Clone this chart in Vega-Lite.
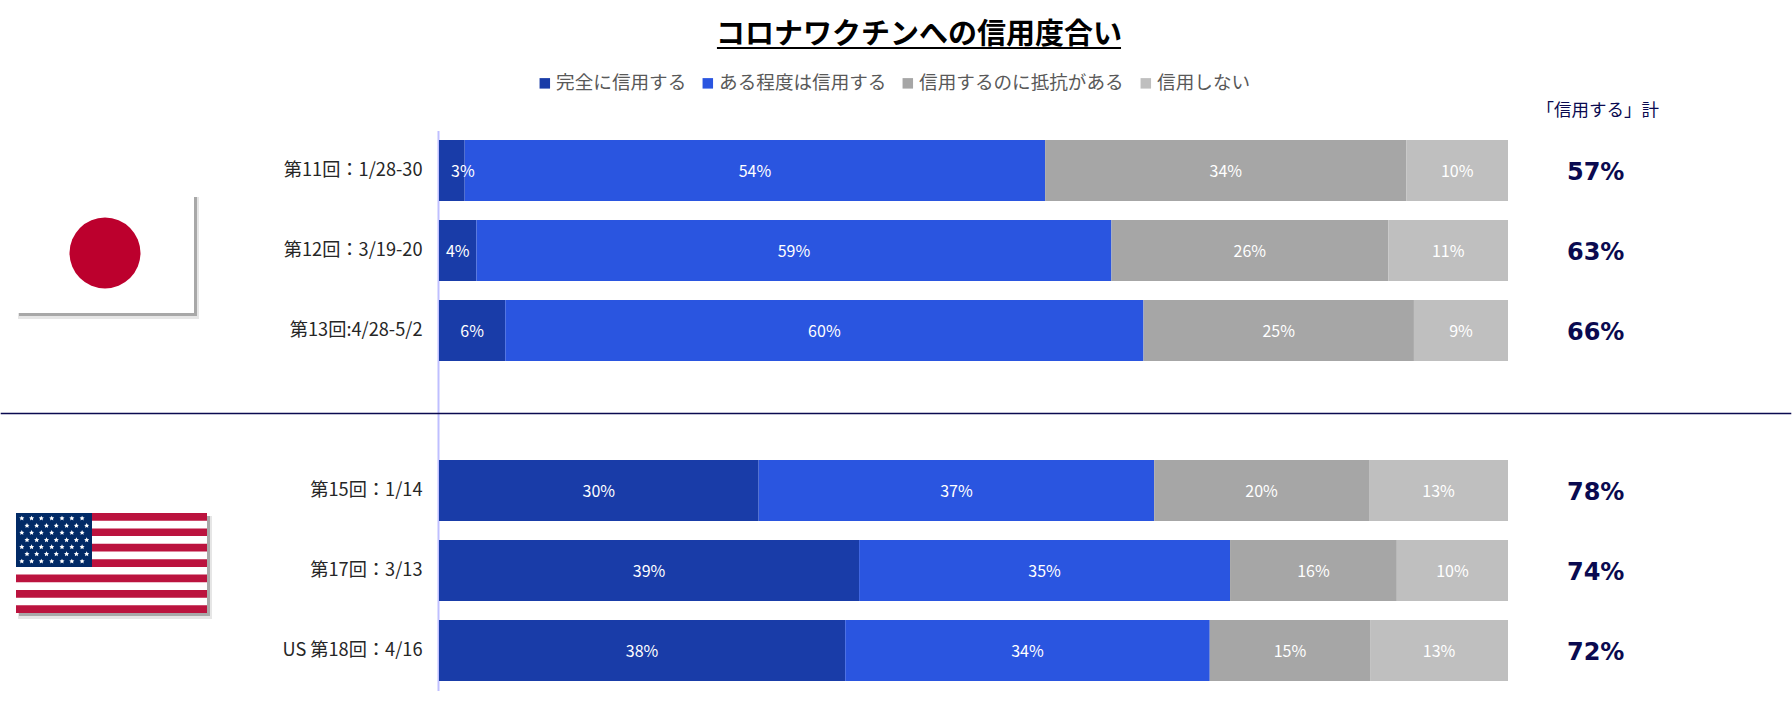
{
  "$schema": "https://vega.github.io/schema/vega-lite/v6.json",
  "width": 1792,
  "height": 713,
  "padding": 0,
  "autosize": "none",
  "background": "white",
  "config": {"font": "Noto Sans CJK JP", "view": {"stroke": null}},
  "title": {
    "text": "コロナワクチンへの信用度合い",
    "font": "Noto Sans CJK JP",
    "fontSize": 29,
    "fontWeight": "bold",
    "color": "#000000",
    "anchor": "middle",
    "frame": "group",
    "dx": 23,
    "offset": -50
  },
  "datasets": {
    "answers": [
      {"wave": "第11回：1/28-30", "answer": "完全に信用する", "order": 1, "value": 2.4, "label": "3%"},
      {"wave": "第11回：1/28-30", "answer": "ある程度は信用する", "order": 2, "value": 54.3, "label": "54%"},
      {"wave": "第11回：1/28-30", "answer": "信用するのに抵抗がある", "order": 3, "value": 33.8, "label": "34%"},
      {"wave": "第11回：1/28-30", "answer": "信用しない", "order": 4, "value": 9.5, "label": "10%"},
      {"wave": "第12回：3/19-20", "answer": "完全に信用する", "order": 1, "value": 3.5, "label": "4%"},
      {"wave": "第12回：3/19-20", "answer": "ある程度は信用する", "order": 2, "value": 59.4, "label": "59%"},
      {"wave": "第12回：3/19-20", "answer": "信用するのに抵抗がある", "order": 3, "value": 25.9, "label": "26%"},
      {"wave": "第12回：3/19-20", "answer": "信用しない", "order": 4, "value": 11.2, "label": "11%"},
      {"wave": "第13回:4/28-5/2", "answer": "完全に信用する", "order": 1, "value": 6.2, "label": "6%"},
      {"wave": "第13回:4/28-5/2", "answer": "ある程度は信用する", "order": 2, "value": 59.7, "label": "60%"},
      {"wave": "第13回:4/28-5/2", "answer": "信用するのに抵抗がある", "order": 3, "value": 25.3, "label": "25%"},
      {"wave": "第13回:4/28-5/2", "answer": "信用しない", "order": 4, "value": 8.8, "label": "9%"},
      {"wave": "第15回：1/14", "answer": "完全に信用する", "order": 1, "value": 29.9, "label": "30%"},
      {"wave": "第15回：1/14", "answer": "ある程度は信用する", "order": 2, "value": 37.0, "label": "37%"},
      {"wave": "第15回：1/14", "answer": "信用するのに抵抗がある", "order": 3, "value": 20.1, "label": "20%"},
      {"wave": "第15回：1/14", "answer": "信用しない", "order": 4, "value": 13.0, "label": "13%"},
      {"wave": "第17回：3/13", "answer": "完全に信用する", "order": 1, "value": 39.3, "label": "39%"},
      {"wave": "第17回：3/13", "answer": "ある程度は信用する", "order": 2, "value": 34.7, "label": "35%"},
      {"wave": "第17回：3/13", "answer": "信用するのに抵抗がある", "order": 3, "value": 15.6, "label": "16%"},
      {"wave": "第17回：3/13", "answer": "信用しない", "order": 4, "value": 10.4, "label": "10%"},
      {"wave": "US 第18回：4/16", "answer": "完全に信用する", "order": 1, "value": 38.0, "label": "38%"},
      {"wave": "US 第18回：4/16", "answer": "ある程度は信用する", "order": 2, "value": 34.1, "label": "34%"},
      {"wave": "US 第18回：4/16", "answer": "信用するのに抵抗がある", "order": 3, "value": 15.0, "label": "15%"},
      {"wave": "US 第18回：4/16", "answer": "信用しない", "order": 4, "value": 12.9, "label": "13%"}
    ],
    "totals": [
      {"wave": "第11回：1/28-30", "total": "57%"},
      {"wave": "第12回：3/19-20", "total": "63%"},
      {"wave": "第13回:4/28-5/2", "total": "66%"},
      {"wave": "第15回：1/14", "total": "78%"},
      {"wave": "第17回：3/13", "total": "74%"},
      {"wave": "US 第18回：4/16", "total": "72%"}
    ],
    "flagparts": [
      {"part": "soft", "x0": 18, "x1": 199, "y0": 197, "y1": 319},
      {"part": "shadow", "x0": 19, "x1": 197, "y0": 197, "y1": 316},
      {"part": "white", "x0": 16, "x1": 194, "y0": 194, "y1": 313},
      {"part": "soft", "x0": 18, "x1": 212, "y0": 516, "y1": 619},
      {"part": "shadow", "x0": 19, "x1": 210, "y0": 516, "y1": 616},
      {"part": "white", "x0": 16, "x1": 207, "y0": 513, "y1": 613},
      {"part": "red", "x0": 16, "x1": 207, "y0": 513, "y1": 520.7},
      {"part": "red", "x0": 16, "x1": 207, "y0": 528.4, "y1": 536.1},
      {"part": "red", "x0": 16, "x1": 207, "y0": 543.8, "y1": 551.5},
      {"part": "red", "x0": 16, "x1": 207, "y0": 559.2, "y1": 566.9},
      {"part": "red", "x0": 16, "x1": 207, "y0": 574.6, "y1": 582.3},
      {"part": "red", "x0": 16, "x1": 207, "y0": 590, "y1": 597.7},
      {"part": "red", "x0": 16, "x1": 207, "y0": 605.3, "y1": 613},
      {"part": "navy", "x0": 16, "x1": 92, "y0": 513, "y1": 566.9}
    ],
    "stars": [
      {"x": 21.8, "y": 518.3}, {"x": 31.6, "y": 518.3}, {"x": 41.3, "y": 518.3}, {"x": 51.7, "y": 518.3}, {"x": 62, "y": 518.3}, {"x": 71.8, "y": 518.3}, {"x": 82.1, "y": 518.3},
      {"x": 27, "y": 525.7}, {"x": 36.7, "y": 525.7}, {"x": 46.5, "y": 525.7}, {"x": 56.3, "y": 525.7}, {"x": 66.6, "y": 525.7}, {"x": 76.4, "y": 525.7}, {"x": 86.7, "y": 525.7},
      {"x": 21.8, "y": 532.7}, {"x": 31.6, "y": 532.7}, {"x": 41.3, "y": 532.7}, {"x": 51.7, "y": 532.7}, {"x": 62, "y": 532.7}, {"x": 71.8, "y": 532.7}, {"x": 82.1, "y": 532.7},
      {"x": 27, "y": 540}, {"x": 36.7, "y": 540}, {"x": 46.5, "y": 540}, {"x": 56.3, "y": 540}, {"x": 66.6, "y": 540}, {"x": 76.4, "y": 540}, {"x": 86.7, "y": 540},
      {"x": 21.8, "y": 547}, {"x": 31.6, "y": 547}, {"x": 41.3, "y": 547}, {"x": 51.7, "y": 547}, {"x": 62, "y": 547}, {"x": 71.8, "y": 547}, {"x": 82.1, "y": 547},
      {"x": 27, "y": 554}, {"x": 36.7, "y": 554}, {"x": 46.5, "y": 554}, {"x": 56.3, "y": 554}, {"x": 66.6, "y": 554}, {"x": 76.4, "y": 554}, {"x": 86.7, "y": 554},
      {"x": 21.8, "y": 561.3}, {"x": 31.6, "y": 561.3}, {"x": 41.3, "y": 561.3}, {"x": 51.7, "y": 561.3}, {"x": 62, "y": 561.3}, {"x": 71.8, "y": 561.3}, {"x": 82.1, "y": 561.3}
    ]
  },
  "layer": [
    {
      "encoding": {
        "y": {
          "field": "wave",
          "type": "nominal",
          "title": null,
          "scale": {
            "domain": ["第11回：1/28-30", "第12回：3/19-20", "第13回:4/28-5/2", " ", "第15回：1/14", "第17回：3/13", "US 第18回：4/16"],
            "range": [130.5, 690.5],
            "paddingInner": 0.2375,
            "paddingOuter": 0.11875
          },
          "axis": {
            "offset": -438,
            "domainColor": "#BFBFFF",
            "domainWidth": 2,
            "ticks": false,
            "grid": false,
            "labelPadding": 16,
            "labelFontSize": 18.2,
            "labelColor": "#262626",
            "labelLimit": 300
          }
        }
      },
      "layer": [
        {
          "data": {"name": "answers"},
          "mark": {"type": "bar"},
          "encoding": {
            "x": {
              "field": "value",
              "type": "quantitative",
              "stack": "zero",
              "title": null,
              "scale": {"domain": [0, 100], "range": [439, 1508], "nice": false},
              "axis": null
            },
            "order": {"field": "order"},
            "color": {
              "field": "answer",
              "type": "nominal",
              "scale": {
                "domain": ["完全に信用する", "ある程度は信用する", "信用するのに抵抗がある", "信用しない"],
                "range": ["#193CA8", "#2A55E0", "#A6A6A6", "#BFBFBF"]
              },
              "legend": {
                "title": null,
                "orient": "none",
                "legendX": 535.5,
                "legendY": 74,
                "direction": "horizontal",
                "columns": 4,
                "columnPadding": 12,
                "symbolType": "square",
                "symbolSize": 110,
                "symbolStrokeWidth": 0,
                "labelFontSize": 18.6,
                "labelColor": "#595959",
                "labelOffset": 2,
                "labelLimit": 400
              }
            }
          }
        },
        {
          "data": {"name": "answers"},
          "mark": {"type": "text", "color": "white", "fontSize": 16, "dy": 1.5},
          "encoding": {
            "x": {"field": "value", "type": "quantitative", "stack": "zero", "bandPosition": 0.5},
            "order": {"field": "order"},
            "text": {"condition": {"test": "datum.label == '3%'", "value": ""}, "field": "label"}
          }
        },
        {
          "data": {"name": "answers"},
          "transform": [{"filter": "datum.label == '3%'"}],
          "mark": {"type": "text", "color": "white", "fontSize": 16, "dx": 11, "dy": 1.5},
          "encoding": {
            "x": {"field": "value", "type": "quantitative", "stack": "zero", "bandPosition": 0.5},
            "order": {"field": "order"},
            "text": {"field": "label"}
          }
        },
        {
          "data": {"name": "totals"},
          "mark": {"type": "text", "font": "DejaVu Sans", "fontWeight": "bold", "fontSize": 24, "color": "#0A0A50", "dy": 2},
          "encoding": {
            "x": {"datum": 108.2},
            "text": {"field": "total"}
          }
        },
        {
          "data": {"values": [{"wave": "第11回：1/28-30", "header": "「信用する」計"}]},
          "mark": {"type": "text", "fontSize": 17.5, "color": "#0A0A50", "dy": -60},
          "encoding": {
            "x": {"datum": 108.4},
            "text": {"field": "header"}
          }
        },
        {
          "data": {"values": [{"wave": "第11回：1/28-30"}]},
          "mark": {"type": "rule", "color": "#000000", "strokeWidth": 2, "yOffset": -122.5},
          "encoding": {
            "x": {"datum": 26},
            "x2": {"datum": 63.8}
          }
        },
        {
          "data": {"values": [{"wave": " "}]},
          "mark": {"type": "rule", "color": "#0A0A50", "strokeWidth": 1.5, "yOffset": 3},
          "encoding": {
            "x": {"datum": -41},
            "x2": {"datum": 126.5}
          }
        }
      ]
    },
    {
      "encoding": {
        "x": {"field": "x", "type": "quantitative", "title": null, "axis": null, "scale": {"domain": [0, 1792], "range": [0, 1792], "nice": false}},
        "y": {"field": "y", "type": "quantitative", "title": null, "axis": null, "scale": {"domain": [0, 713], "range": [0, 713], "nice": false, "zero": false}}
      },
      "layer": [
        {
          "data": {"name": "flagparts"},
          "mark": {"type": "rect"},
          "encoding": {
            "x": {"field": "x0", "type": "quantitative", "title": null, "axis": null, "scale": {"domain": [0, 1792], "range": [0, 1792], "nice": false}},
            "x2": {"field": "x1"},
            "y": {"field": "y0", "type": "quantitative", "title": null, "axis": null, "scale": {"domain": [0, 713], "range": [0, 713], "nice": false, "zero": false}},
            "y2": {"field": "y1"},
            "color": {
              "field": "part",
              "type": "nominal",
              "legend": null,
              "scale": {
                "domain": ["soft", "shadow", "white", "red", "navy"],
                "range": ["#E6E6E6", "#A8A8A8", "#FFFFFF", "#BB133E", "#012A66"]
              }
            }
          }
        },
        {
          "data": {"values": [{"x": 105, "y": 253}]},
          "mark": {"type": "point", "shape": "circle", "filled": true, "color": "#BC002D", "size": 5041, "opacity": 1}
        },
        {
          "data": {"name": "stars"},
          "mark": {
            "type": "point",
            "shape": "M0,-1L0.294,-0.405L0.951,-0.309L0.476,0.155L0.588,0.809L0,0.5L-0.588,0.809L-0.476,0.155L-0.951,-0.309L-0.294,-0.405Z",
            "filled": true,
            "color": "#FFFFFF",
            "size": 28,
            "opacity": 1
          }
        }
      ]
    }
  ],
  "resolve": {"scale": {"x": "independent", "y": "independent", "color": "independent"}, "axis": {"x": "independent", "y": "independent"}}
}
